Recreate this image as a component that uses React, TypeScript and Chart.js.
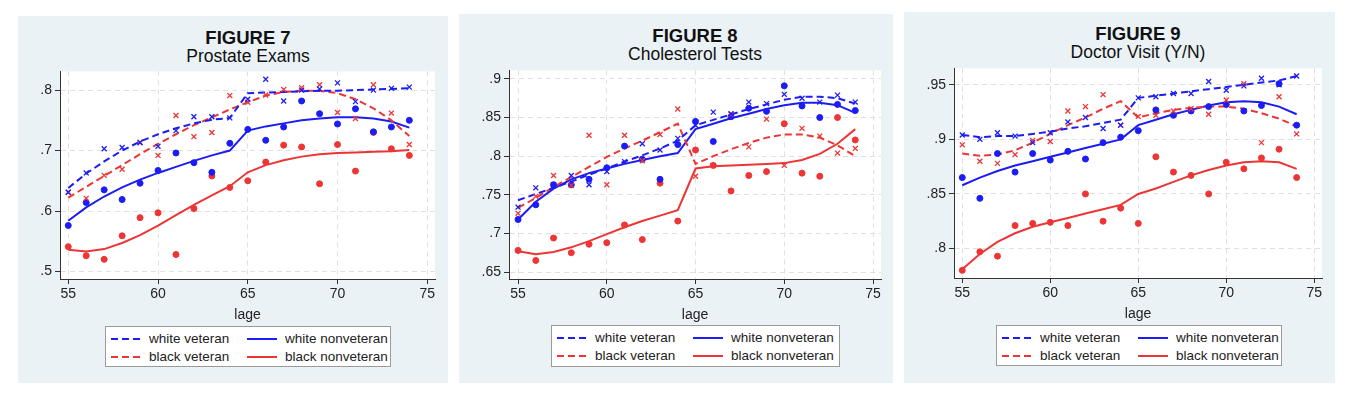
import React, { useEffect, useRef } from "react";
import { Chart, registerables } from "chart.js";
Chart.register(...registerables);

const ages = [55,56,57,58,59,60,61,62,63,64,65,66,67,68,69,70,71,72,73,74];
const seriesNames = ["white veteran", "white nonveteran", "black veteran", "black nonveteran"];

// Figure 7: Prostate Exams
const f7WhiteVetPts = [.631,.663,.703,.705,.713,.707,.733,.756,.756,.754,.785,.818,.782,.800,.802,.812,.781,.800,.803,.805];
const f7WhiteVetFit = [.638,.662,.682,.700,.715,.727,.737,.745,.751,.754,.795,.796,.797,.798,.799,.799,.800,.801,.802,.803];
const f7BlackVetPts = [.631,.621,.659,.669,.714,.692,.758,.723,.730,.791,.780,.792,.801,.804,.809,.763,.753,.809,.762,.710];
const f7BlackVetFit = [.622,.640,.658,.676,.694,.711,.727,.742,.755,.768,.780,.791,.797,.799,.799,.795,.785,.770,.750,.724];
const f7WhiteNonPts = [.576,.614,.635,.619,.646,.667,.696,.680,.664,.712,.735,.717,.739,.782,.761,.744,.769,.731,.739,.750];
const f7WhiteNonFit = [.584,.606,.624,.639,.652,.663,.673,.683,.692,.700,.733,.740,.745,.750,.753,.755,.755,.753,.748,.738];
const f7BlackNonPts = [.541,.526,.520,.559,.589,.597,.528,.604,.658,.639,.650,.681,.709,.706,.645,.710,.666,.730,.703,.692];
const f7BlackNonFit = [.536,.533,.537,.547,.560,.576,.593,.610,.626,.641,.664,.676,.684,.690,.694,.696,.697,.698,.699,.701];

// Figure 8: Cholesterol Tests
const f8WhiteVetPts = [.734,.759,.763,.775,.763,.780,.793,.816,.808,.823,.840,.857,.855,.870,.868,.880,.875,.870,.879,.870];
const f8WhiteVetFit = [.743,.751,.759,.767,.776,.784,.793,.801,.810,.820,.840,.847,.854,.861,.867,.873,.877,.877,.875,.868];
const f8BlackVetPts = [.726,.748,.775,.762,.827,.763,.827,.794,.828,.861,.774,.788,.854,.812,.848,.788,.836,.826,.804,.810];
const f8BlackVetFit = [.733,.746,.760,.773,.786,.799,.810,.820,.831,.842,.790,.800,.809,.817,.824,.828,.828,.824,.814,.800];
const f8WhiteNonPts = [.718,.737,.763,.763,.770,.785,.813,.796,.770,.815,.845,.819,.851,.862,.858,.891,.865,.850,.867,.859];
const f8WhiteNonFit = [.718,.741,.758,.770,.778,.784,.790,.795,.800,.804,.835,.842,.849,.855,.861,.866,.869,.869,.866,.856];
const f8BlackNonPts = [.678,.665,.694,.675,.686,.688,.711,.692,.765,.716,.808,.788,.755,.775,.780,.842,.778,.774,.850,.821];
const f8BlackNonFit = [.677,.673,.676,.682,.690,.699,.708,.716,.723,.730,.784,.787,.788,.789,.790,.791,.795,.803,.816,.835];

// Figure 9: Doctor Visit (Y/N)
const f9WhiteVetPts = [.904,.900,.906,.903,.897,.906,.916,.920,.910,.913,.938,.939,.942,.942,.953,.945,.949,.956,.950,.958];
const f9WhiteVetFit = [.904,.902,.903,.903,.905,.907,.910,.912,.915,.918,.938,.940,.942,.944,.946,.948,.950,.952,.954,.958];
const f9BlackVetPts = [.895,.880,.878,.886,.899,.898,.926,.930,.941,.913,.921,.922,.926,.928,.923,.936,.951,.897,.939,.905];
const f9BlackVetFit = [.887,.885,.886,.890,.897,.905,.913,.920,.928,.935,.920,.924,.927,.929,.930,.930,.928,.924,.919,.912];
const f9WhiteNonPts = [.865,.846,.887,.870,.887,.881,.889,.882,.897,.902,.908,.927,.922,.926,.930,.932,.926,.931,.951,.913];
const f9WhiteNonFit = [.858,.865,.871,.876,.880,.884,.888,.892,.896,.900,.913,.918,.923,.927,.931,.934,.935,.934,.930,.923];
const f9BlackNonPts = [.780,.797,.793,.821,.823,.824,.821,.850,.825,.837,.823,.884,.870,.867,.850,.879,.873,.883,.891,.865];
const f9BlackNonFit = [.781,.795,.806,.814,.820,.824,.828,.832,.836,.840,.850,.855,.861,.867,.872,.876,.879,.880,.879,.873];

const xTicks = [55, 60, 65, 70, 75];
const f7YTicks = [.5, .6, .7, .8];
const f8YTicks = [.65, .7, .75, .8, .85, .9];
const f9YTicks = [.8, .85, .9, .95];

const BLUE = "#1c1cf5";
const RED = "#ee3535";
const FONT = "'Liberation Sans', Arial, sans-serif";

type Panel = {
  title: string; sub: string;
  bg: number[]; plot: number[]; cx: number; ty: number[]; legend: number[];
  yMin: number; yMax: number; xMin: number; xMax: number; yTicks: number[];
  wvP: number[]; wvF: number[]; bvP: number[]; bvF: number[];
  wnP: number[]; wnF: number[]; bnP: number[]; bnF: number[];
};

const panels: Panel[] = [
  { title: "FIGURE 7", sub: "Prostate Exams", bg: [18,16,448,383], plot: [60,68,435,279], cx: 248, ty: [38,56], legend: [105,326,286,41],
    yMin: .4875, yMax: .831, xMin: 54.54, xMax: 75.43, yTicks: f7YTicks,
    wvP: f7WhiteVetPts, wvF: f7WhiteVetFit, bvP: f7BlackVetPts, bvF: f7BlackVetFit,
    wnP: f7WhiteNonPts, wnF: f7WhiteNonFit, bnP: f7BlackNonPts, bnF: f7BlackNonFit },
  { title: "FIGURE 8", sub: "Cholesterol Tests", bg: [459,14,893,383], plot: [509,67,881,279], cx: 695, ty: [36,54], legend: [551,325,289,42],
    yMin: .641, yMax: .911, xMin: 54.49, xMax: 75.45, yTicks: f8YTicks,
    wvP: f8WhiteVetPts, wvF: f8WhiteVetFit, bvP: f8BlackVetPts, bvF: f8BlackVetFit,
    wnP: f8WhiteNonPts, wnF: f8WhiteNonFit, bnP: f8BlackNonPts, bnF: f8BlackNonFit },
  { title: "FIGURE 9", sub: "Doctor Visit (Y/N)", bg: [904,12,1335,383], plot: [954,65,1322,278], cx: 1138, ty: [34,52], legend: [996,325,286,41],
    yMin: .773, yMax: .965, xMin: 54.53, xMax: 75.44, yTicks: f9YTicks,
    wvP: f9WhiteVetPts, wvF: f9WhiteVetFit, bvP: f9BlackVetPts, bvF: f9BlackVetFit,
    wnP: f9WhiteNonPts, wnF: f9WhiteNonFit, bnP: f9BlackNonPts, bnF: f9BlackNonFit },
];

const YW = 40, PADT = 8, PADR = 8, XH = 45;

const pts = (ys: number[]) => ages.map((a, i) => ({ x: a, y: ys[i] }));
const fmt = (v: number) => { const s = String(Math.round(v * 100) / 100); return s.startsWith("0") ? s.slice(1) : s; };

function PanelChart({ p }: { p: Panel }) {
  const ref = useRef<HTMLCanvasElement>(null);
  useEffect(() => {
    const scatter = (ys: number[], color: string, style: string, rad: number) => ({
      type: "scatter" as const, data: pts(ys), showLine: false, pointStyle: style, pointRadius: rad,
      pointBorderColor: color, pointBackgroundColor: color, pointBorderWidth: style === "crossRot" ? 1.3 : 1, clip: false as any,
    });
    const line = (ys: number[], color: string, dash: number[]) => ({
      type: "line" as const, data: pts(ys), showLine: true, pointRadius: 0, borderColor: color,
      borderWidth: 2, borderDash: dash, tension: 0, fill: false,
    });
    const chart = new Chart(ref.current!, {
      type: "scatter",
      data: {
        datasets: [
          scatter(p.wvP, BLUE, "crossRot", 3.5), scatter(p.bvP, RED, "crossRot", 3.5),
          scatter(p.wnP, BLUE, "circle", 3), scatter(p.bnP, RED, "circle", 3),
          line(p.wvF, BLUE, [7, 4]), line(p.bvF, RED, [7, 4]),
          line(p.wnF, BLUE, []), line(p.bnF, RED, []),
        ] as any,
      },
      options: {
        animation: false, responsive: false,
        layout: { padding: { top: PADT, right: PADR, left: 0, bottom: 0 } },
        plugins: { legend: { display: false }, tooltip: { enabled: false }, title: { display: false } },
        scales: {
          x: {
            type: "linear", min: p.xMin, max: p.xMax,
            afterBuildTicks: (s: any) => { s.ticks = xTicks.map((v) => ({ value: v })); },
            afterFit: (s: any) => { s.height = XH; },
            ticks: { color: "#222", font: { family: FONT, size: 14 }, padding: 2, callback: (v: any) => String(v) },
            grid: { color: "#e0e0e0", tickColor: "#333", tickLength: 5 },
            border: { display: true, color: "#333", width: 1, dash: [5, 4] },
            title: { display: true, text: "lage", color: "#222", font: { family: FONT, size: 14 }, padding: { top: 0, bottom: 0 } },
          },
          y: {
            type: "linear", min: p.yMin, max: p.yMax,
            afterBuildTicks: (s: any) => { s.ticks = p.yTicks.map((v) => ({ value: v })); },
            afterFit: (s: any) => { s.width = YW; },
            ticks: { color: "#222", font: { family: FONT, size: 14 }, padding: 3, callback: (v: any) => fmt(Number(v)) },
            grid: { color: "#e0e0e0", tickColor: "#333", tickLength: 5 },
            border: { display: true, color: "#333", width: 1, dash: [5, 4] },
          },
        },
      } as any,
      plugins: [{
        id: "plotbg",
        beforeDraw: (c: any) => {
          const a = c.chartArea; const ctx = c.ctx;
          ctx.save(); ctx.fillStyle = "#ffffff"; ctx.fillRect(a.left, a.top, a.right - a.left, a.bottom - a.top); ctx.restore();
        },
      }],
    });
    return () => chart.destroy();
  }, [p]);
  const [l, t, r, b] = p.plot;
  const w = r - l + YW + PADR, h = b - t + PADT + XH;
  return <canvas ref={ref} width={w} height={h}
    style={{ position: "absolute", left: l - YW, top: t - PADT, width: w, height: h }} />;
}

function Legend({ p }: { p: Panel }) {
  const [x, y, w, h] = p.legend;
  const items = [
    { name: seriesNames[0], color: BLUE, dash: true, col: 0, row: 0 },
    { name: seriesNames[1], color: BLUE, dash: false, col: 1, row: 0 },
    { name: seriesNames[2], color: RED, dash: true, col: 0, row: 1 },
    { name: seriesNames[3], color: RED, dash: false, col: 1, row: 1 },
  ];
  return (
    <div style={{ position: "absolute", left: x, top: y, width: w, height: h, background: "#fff", border: "1.5px solid #9a9a9a", boxSizing: "border-box" }}>
      {items.map((it) => {
        const lx = it.col === 0 ? 5 : 141;
        const cy = it.row === 0 ? 12 : 30;
        return (
          <React.Fragment key={it.name}>
            <svg style={{ position: "absolute", left: lx, top: cy - 3 }} width={30} height={6}>
              <line x1={0} y1={3} x2={30} y2={3} stroke={it.color} strokeWidth={2} strokeDasharray={it.dash ? "7 4" : undefined} />
            </svg>
            <div style={{ position: "absolute", left: lx + 38, top: cy - 9, height: 18, lineHeight: "18px", fontFamily: FONT, fontSize: 13.5, color: "#222", whiteSpace: "nowrap" }}>{it.name}</div>
          </React.Fragment>
        );
      })}
    </div>
  );
}

export default function App() {
  return (
    <div style={{ position: "absolute", left: 0, top: 0, width: 1352, height: 400, background: "#fff" }}>
      {panels.map((p) => (
        <React.Fragment key={p.title}>
          <div style={{ position: "absolute", left: p.bg[0], top: p.bg[1], width: p.bg[2] - p.bg[0], height: p.bg[3] - p.bg[1], background: "#eaf2f6" }} />
          <div style={{ position: "absolute", left: p.cx, top: p.ty[0], transform: "translate(-50%,-50%)", fontFamily: FONT, fontWeight: "bold", fontSize: 18.5, color: "#111", whiteSpace: "nowrap" }}>{p.title}</div>
          <div style={{ position: "absolute", left: p.cx, top: p.ty[1], transform: "translate(-50%,-50%)", fontFamily: FONT, fontSize: 17.5, color: "#111", whiteSpace: "nowrap" }}>{p.sub}</div>
          <PanelChart p={p} />
          <Legend p={p} />
        </React.Fragment>
      ))}
    </div>
  );
}
